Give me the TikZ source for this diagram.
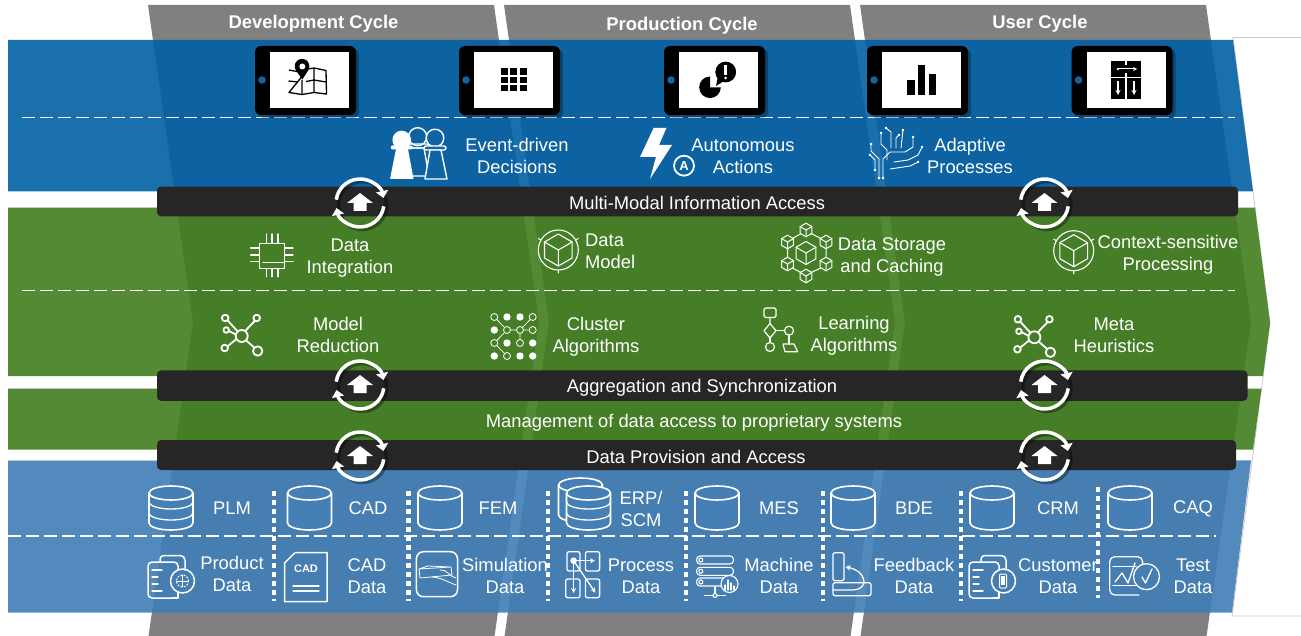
\documentclass[tikz,border=0pt]{standalone}
\usepackage{fontspec}
\setmainfont{Liberation Sans}
\usetikzlibrary{arrows.meta}
\definecolor{chevgray}{HTML}{808080}
\definecolor{bandblue}{RGB}{2,97,165}
\definecolor{bandgreen}{RGB}{65,126,30}
\definecolor{bandsteel}{RGB}{64,126,183}
\definecolor{solidblue}{HTML}{0F65A3}
\definecolor{solidgreen}{HTML}{487F27}
\definecolor{solidsteel}{HTML}{467FB5}
\definecolor{barblack}{HTML}{262626}
\definecolor{edgegray}{HTML}{C8C8C8}
\tikzset{
  chevron/.style={fill=chevgray},
  bandshape/.style={fill opacity=.905},
  sepline/.style={draw=white,line width=1.6pt,dash pattern=on 13pt off 5pt},
  dotline/.style={draw=white,line width=4.5pt,dash pattern=on 4.5pt off 4.5pt},
  barshape/.style={fill=barblack,rounded corners=4pt},
  lbl/.style={text=white,font=\fontsize{18.35}{22}\selectfont,align=center,inner sep=0pt},
  headlbl/.style={text=white,font=\fontsize{18.4}{22}\selectfont\bfseries,inner sep=0pt},
  icon/.style={draw=white,line width=1.3pt,line join=round,line cap=round},
  thinicon/.style={draw=white,line width=.8pt,line join=round,line cap=round},
  blk/.style={draw=black,line width=1.3pt,line join=round},
}
\newcommand{\cycleicon}[2]{%
  \begin{scope}[shift={(#1,#2)}]
    \begin{scope}[shift={(2.5,2.5)},opacity=.35]
      \draw[black,line width=3.5pt] (0,0) circle[radius=24pt];
    \end{scope}
    \draw[white,line width=3.5pt,-{Triangle[width=12pt,length=7pt]}] (172:24pt) arc[start angle=172,end angle=12,radius=24pt];
    \draw[white,line width=3.5pt,-{Triangle[width=12pt,length=7pt]}] (-8:24pt) arc[start angle=-8,end angle=-168,radius=24pt];
    \fill[white] (0,-10)--(13,0)--(6.5,0)--(6.5,8)--(-6.5,8)--(-6.5,0)--(-13,0)--cycle;
  \end{scope}}
\newcommand{\tabletbox}[1]{%
  \begin{scope}[shift={(#1,46)}]
    \fill[black,opacity=.3,rounded corners=6pt] (3,3) rectangle (104,72);
    \fill[black,rounded corners=6pt] (0,0) rectangle (101,69);
    \fill[white] (15,6) rectangle (94,62);
    \fill[solidblue] (7,34) circle[radius=3.8pt];
  \end{scope}}
\newcommand{\cylicon}[2]{%
  \begin{scope}[shift={(#1,#2)}]
    \draw[icon,line width=1.6pt,fill=solidsteel] (-22,7) -- (-22,37) arc[start angle=180,end angle=360,x radius=22pt,y radius=7pt] -- (22,7) arc[start angle=0,end angle=180,x radius=22pt,y radius=7pt] -- cycle;
    \draw[icon,line width=1.6pt] (-22,7) arc[start angle=180,end angle=360,x radius=22pt,y radius=7pt];
  \end{scope}}
\newcommand{\cylrings}[2]{%
  \begin{scope}[shift={(#1,#2)}]
    \draw[icon] (-22,16) arc[start angle=180,end angle=360,x radius=22pt,y radius=7pt];
    \draw[icon] (-22,27) arc[start angle=180,end angle=360,x radius=22pt,y radius=7pt];
  \end{scope}}
\newcommand{\cubeicon}[3]{%
  \begin{scope}[shift={(#1,#2)}]
    \draw[icon,line width=1pt] (90:#3pt)--(30:#3pt)--(-30:#3pt)--(-90:#3pt)--(-150:#3pt)--(150:#3pt)--cycle;
    \draw[icon,line width=1pt] (0,0)--(150:#3pt) (0,0)--(30:#3pt) (0,0)--(-90:#3pt);
  \end{scope}}
\newcommand{\cubering}[2]{%
  \begin{scope}[shift={(#1,#2)}]
    \draw[icon,line width=1.1pt] (0,0) circle[radius=20pt];
    \draw[icon,line width=1.1pt] (-90:20pt)--(-90:23pt) (30:20pt)--(30:23pt) (150:20pt)--(150:23pt);
    \draw[icon,line width=1.1pt] (90:16pt)--(30:16pt)--(-30:16pt)--(-90:16pt)--(-150:16pt)--(150:16pt)--cycle;
    \draw[icon,line width=1.1pt] (0,0)--(150:16pt) (0,0)--(30:16pt) (0,0)--(-90:16pt);
  \end{scope}}
\newcommand{\hubicon}[2]{%
  \begin{scope}[shift={(#1,#2)}]
    \draw[icon,line width=1.8pt] (0,0) circle[radius=6pt];
    \draw[icon,line width=1.8pt] (-16.5,-18) circle[radius=3.3pt] (15,-18) circle[radius=3.3pt] (-15.5,-6) circle[radius=2.8pt] (-17,12) circle[radius=3.3pt] (16,15) circle[radius=4.7pt];
    \draw[icon,line width=1.8pt] (-4,-4.5)--(-14,-15.5) (3.4,-5)--(13,-15) (-5.8,-1.5)--(-12.8,-5) (-5.2,3)--(-14,10.2) (4.3,4.3)--(12.7,11.7);
  \end{scope}}
\newcommand{\stackdoc}[1]{%
  \begin{scope}[shift={(#1,0)}]
    \draw[icon,line width=1.5pt] (12,561)--(12,559) to[out=90,in=180] (16,555.5)--(32,555.5) to[out=0,in=90] (37,560)--(37,570);
    \draw[icon,line width=1.5pt,rounded corners=4pt] (24,598)--(0,598)--(0,562)--(30,562)--(30,570);
    \draw[icon,line width=1.5pt] (30,592)--(30,598)--(24,598);
    \draw[icon] (4,570)--(14,570) (4,577)--(10,577) (4,584)--(10,584) (4,591)--(14,591);
    \draw[icon,line width=1.5pt] (34.5,581) circle[radius=12pt];
  \end{scope}}
\begin{document}
\begin{tikzpicture}[x=1pt,y=-1pt]
\useasboundingbox (0,0) rectangle (1301,636);
\clip (0,0) rectangle (1301,636);
% chevrons behind
\fill[chevron] (148,5)--(494,5)--(539,322)--(494,640)--(148,640)--(193,322)--cycle;
\fill[chevron] (504,5)--(850,5)--(895,322)--(850,640)--(504,640)--(549,322)--cycle;
\fill[chevron] (860,5)--(1206,5)--(1251,322)--(1206,640)--(860,640)--(905,322)--cycle;
% outer edge
\draw[edgegray,line width=.8pt] (1301,37.5)--(1233,37.5)--(1270,323)--(1232,616)--(1301,616);
% bands
\fill[bandblue,bandshape] (8,40)--(1233,40)--(1253,191.5)--(8,191.5)--cycle;
\fill[bandgreen,bandshape] (8,207.7)--(1255,207.7)--(1270,323)--(1263,376)--(8,376)--cycle;
\fill[bandgreen,bandshape] (8,388.6)--(1261.5,388.6)--(1253,449.5)--(8,449.5)--cycle;
\fill[bandsteel,bandshape] (8,460.4)--(1251,460.4)--(1232,612.5)--(8,612.5)--cycle;
\draw[edgegray,line width=.7pt] (8,207.5)--(157,207.5) (8,388.3)--(157,388.3) (8,460.2)--(157,460.2);
% head labels
\node[headlbl] (hdev) at (313.5,23.5) {Development Cycle};
\node[headlbl] (hprod) at (682,25.5) {Production Cycle};
\node[headlbl] (huser) at (1040,23.5) {User Cycle};
% separators
\draw[sepline] (22,117.5)--(1235,117.5);
\draw[sepline] (22,290.5)--(1235,290.5);
\draw[sepline] (8,536)--(1216,536);
\foreach \sx in {274,408.6,548,686,823,961}{\draw[dotline] (\sx,491)--(\sx,601);}
\draw[dotline] (1098,487)--(1098,598);
% tablets
\tabletbox{255}\tabletbox{459}\tabletbox{664}\tabletbox{867}\tabletbox{1071.5}
% map icon
\draw[blk] (289,70)--(297,71.5) (308,69)--(314,68)--(326,70.5)--(326.5,94)--(314,92.5)--(302,94.5)--(289,92.5)--cycle;
\draw[blk] (302,80)--(302,94.5) (314,68)--(314,92.5) (288.5,81)--(298,82) (306,81.5)--(314,80)--(326,82);
\fill[black] (302.3,79.5)--(296,70.5) arc[start angle=215,end angle=-35,radius=7.4pt]--cycle;
\fill[white] (302.3,66.5) circle[radius=3pt];
% grid icon
\foreach \gx in {501,510.4,520}{\foreach \gy in {68.5,76.7,85}{\fill[black] (\gx,\gy) rectangle +(6.6,6.3);}}
% pie and alert icon
\fill[black] (710,87.3)--(710,76.5) arc[start angle=90,end angle=360,radius=10.8pt]--cycle;
\fill[black] (725.7,72) circle[radius=10.4pt];
\fill[black] (718,76)--(716,86)--(724,81)--cycle;
\fill[white] (724.4,65) rectangle (727,75);
\fill[white] (725.7,78) circle[radius=1.5pt];
% bars icon
\fill[black] (907.4,80) rectangle (914.8,95);
\fill[black] (918,65) rectangle (925,95);
\fill[black] (928.5,74) rectangle (936,95);
% flow icon
\fill[black] (1111,61) rectangle (1124.5,77);
\fill[black] (1127,61) rectangle (1141,77);
\fill[black] (1111,78.5) rectangle (1124.5,99);
\fill[black] (1127,78.5) rectangle (1141,99);
\fill[black] (1124,65) rectangle (1128,73);
\draw[white,line width=1pt,-{Stealth[length=4pt,width=4pt]}] (1118,69)--(1137,69);
\fill[white] (1118,69) circle[radius=1.4pt];
\draw[white,line width=1.2pt,-{Stealth[length=5pt,width=5pt]}] (1118,81)--(1118,95);
\draw[white,line width=1.2pt,-{Stealth[length=5pt,width=5pt]}] (1134,81)--(1134,95);
% pawns
\begin{scope}[icon,line width=1.4pt]
 \draw (417.7,136.7) circle[radius=9pt];
 \draw[rounded corners=2pt] (407,144) rectangle (429,148);
 \draw (412,148)--(424,148)--(429,176)--(410,176);
 \draw[fill=solidblue] (435,138) circle[radius=8.8pt];
 \draw[fill=solidblue,rounded corners=2pt] (424,146) rectangle (446,150);
 \draw[fill=solidblue] (430,150)--(441,150)--(447,179)--(425,179)--cycle;
\end{scope}
\fill[white] (401.7,140) circle[radius=9.3pt];
\fill[white,rounded corners=2pt] (390.7,145.5) rectangle (413,149.5);
\fill[white] (396,149)--(408,149)--(413.5,179)--(390,179)--cycle;
% lightning
\fill[white] (653.6,128)--(666.4,128)--(659,145)--(672,145)--(650,179)--(656,157)--(640,157)--cycle;
\draw[icon,line width=1.8pt] (684,165.7) circle[radius=10pt];
\node[text=white,font=\fontsize{13}{13}\selectfont\bfseries,inner sep=0pt] (alabel) at (684,165.9) {A};
% circuit tree
\begin{scope}[thinicon,line width=.9pt]
 \draw (879,178)--(879,159)--(871,151)--(871,144);
 \draw (883,178)--(883,159)--(890,152)--(905,152)--(913,147)--(913,137);
 \draw (875,170)--(875,160)--(870,155);
 \draw (887,160)--(887,150)--(881,144)--(881,133);
 \draw (891,148)--(891,132)--(886,128);
 \draw (896,148)--(896,138)--(899,135);
 \draw (901,148)--(903,130);
 \draw (894,162)--(908,160)--(918,155)--(922,147);
 \draw (890,169)--(910,166)--(918,162);
 \foreach \px/\py in {871/144,913/137,870/155,881/133,886/128,899/135,903/130,922/147,918/162,879/178,883/178,875/170}{\draw[fill=white] (\px,\py) circle[radius=.9pt];}
\end{scope}
% bars
\fill[barshape] (157,186.6) rectangle (1238,216.3);
\fill[barshape] (157,370.4) rectangle (1247.5,400.8);
\fill[barshape] (157,440.1) rectangle (1236,470);
\foreach \cx in {360,1044.5}{\cycleicon{\cx}{203}\cycleicon{\cx}{385}\cycleicon{\cx}{456}}
% chip
\begin{scope}[icon]
 \draw (259.3,243.3) rectangle (284.3,268.3);
 \draw (263,262.7)--(284,262.7);
 \foreach \a in {266.7,272,278}{\draw (\a,243)--(\a,234) (\a,268.5)--(\a,276.7);}
 \foreach \a in {248,255,261.7}{\draw (259,\a)--(250.7,\a) (284.5,\a)--(293,\a);}
\end{scope}
\cubering{558.3}{250}
\cubering{1073.7}{250.7}
% cube network
\foreach \a/\b in {806/230,826/242,826/264,806/276,787.5/264,787.5/242}{\cubeicon{\a}{\b}{6.8}}
\cubeicon{806}{253}{11.5}
\draw[icon,line width=1pt] (811,233.5)--(821,238.5) (826,249.5)--(826,256.5) (821,268)--(811,272.5) (801,272.5)--(792.5,268) (787.5,256.5)--(787.5,249.5) (792.5,238.5)--(801,233.5);
% hub icons
\hubicon{241.7}{336}
\hubicon{1034.4}{337.3}
% cluster
\begin{scope}[thinicon]
 \draw (494.3,317)--(507,330)--(520,330)--(532.7,330) (520,330)--(532.7,317) (507,330)--(494.3,343)--(507,356) (520,330)--(520,343);
 \foreach \px/\py in {494.3/317,532.7/317,507/330,520/330,532.7/330,494.3/343,520/343,507/356}{\draw[fill=solidgreen] (\px,\py) circle[radius=3.5pt];}
\end{scope}
\foreach \px/\py in {507/317,520/317,494.3/330,507/343,532.7/343,494.3/356,520/356,532.7/356}{\fill[white] (\px,\py) circle[radius=3.7pt];}
% learning flow
\begin{scope}[icon,line width=1.2pt]
 \draw[rounded corners=1.5pt] (764,308) rectangle (776,317.5);
 \draw (770,317.5)--(770,323.5) (764,330.7)--(770,323.5)--(776,330.7)--(770,338)--cycle;
 \draw (776,330.7)--(784.5,330.7) (770,338)--(770,342.5);
 \draw (789,330.7) circle[radius=4.5pt] (770,347) circle[radius=4.5pt];
 \draw (789,335.2)--(789,344);
 \draw (783,344)--(794,344)--(797.7,351.7)--(785,351.7)--cycle;
\end{scope}
% data-layer cylinders
\cylicon{171}{486}\cylrings{171}{486}
\cylicon{309.5}{486}
\cylicon{440}{486}
\cylicon{580.5}{478}
\cylicon{588.5}{486}\cylrings{588.5}{486}
\cylicon{717}{486}
\cylicon{853}{486}
\cylicon{992}{486}
\cylicon{1130}{486}
% docs
\stackdoc{148}
\stackdoc{969}
\draw[icon,dotted,line width=1pt] (182.5,581) circle[radius=6pt];
\draw[icon,line width=.9pt] (176.5,581)--(188.5,581) (182.5,575)--(182.5,587);
\draw[icon,line width=1pt,rounded corners=1pt] (999.5,574) rectangle (1006.5,588);
\fill[white] (1001,575.5) rectangle (1005,585);
% CAD doc
\draw[icon,line width=1.5pt] (295,552.7)--(327,552.7)--(327,601.7)--(284.6,601.7)--(284.6,563)--cycle;
\node[text=white,font=\fontsize{11}{11}\selectfont\bfseries,inner sep=0pt] (cadmark) at (306,569) {CAD};
\draw[icon] (293,586)--(319,586) (293,591)--(319,591);
% simulation
\draw[icon,line width=1.5pt,rounded corners=7pt] (416.4,551.7) rectangle (457.5,596.7);
\draw[thinicon] (419,569)--(451,567)--(452,575)--(420,578)--cycle (419,569)--(428,566)--(451,567);
\draw[thinicon] (432,577) to[out=-5,in=160] (456,585) (440,570) to[out=10,in=170] (456,578);
% process
\begin{scope}[icon]
 \draw[rounded corners=2pt] (567,551.7) rectangle (580,571);
 \draw[rounded corners=2pt] (585.4,551.7) rectangle (599.6,571);
 \draw[rounded corners=2pt] (565.7,579) rectangle (580,597.7);
 \draw[rounded corners=2pt] (585.4,579) rectangle (599.6,597.7);
 \draw[-{Stealth[length=5pt,width=5pt]}] (573.6,560.7)--(595,560.7);
 \draw[-{Stealth[length=5pt,width=5pt]}] (573.6,560.7)--(573.6,593);
 \draw[-{Stealth[length=5pt,width=5pt]}] (573.6,560.7)--(595.4,592.7);
\end{scope}
\fill[white] (573.6,560.7) circle[radius=3.3pt];
% machine
\begin{scope}[icon,line width=1.1pt]
 \foreach \my in {556,567.3,578}{
  \draw[rounded corners=3.5pt] (696.6,\my) rectangle (733.5,\my+8);
  \draw (700.8,\my+4) circle[radius=2pt];}
 \draw[fill=solidsteel] (729.5,584) circle[radius=8.5pt];
 \draw (715,587)--(715,593.5) (704.5,595.5)--(713,595.5) (717,595.5)--(725.5,595.5);
 \draw (715,595.5) circle[radius=2pt];
 \draw (725,590)--(725,585) (728,590)--(728,580) (731,590)--(731,583) (734,590)--(734,586);
\end{scope}
% feedback
\begin{scope}[icon,line width=1.2pt]
 \draw[rounded corners=1.5pt] (833,552.7) rectangle (844,580.7);
 \draw[rounded corners=1.5pt] (833,582.7)--(871,582.7)--(871,595.7)--(833,595.7)--cycle;
 \draw[-{Stealth[length=5pt,width=5.5pt]}] (864,582.7) to[out=90,in=-10] (845.5,567);
 \draw (833,590)--(852,590) to[out=0,in=-100] (864,582.7);
\end{scope}
% test
\begin{scope}[icon,line width=1.3pt]
 \draw[rounded corners=5pt] (1139,595)--(1109.7,595)--(1109.7,556.7)--(1142.6,556.7)--(1142.6,564);
 \draw (1113,566.7)--(1136,566.7) (1113,585.7)--(1136,585.7);
 \draw (1115,582)--(1122,573)--(1128,583)--(1135,563);
 \draw (1146.5,576.7) circle[radius=13pt];
 \draw (1142,577)--(1145.5,583)--(1152,569);
\end{scope}
% text labels
\node[lbl] (evt) at (517,156) {Event-driven\\Decisions};
\node[lbl] (auto) at (743,156) {Autonomous\\Actions};
\node[lbl] (adapt) at (970,156) {Adaptive\\Processes};
\node[lbl] (mm) at (697,202.5) {Multi-Modal Information Access};
\node[lbl] (dint) at (350,258) {Data\\Integration};
\node[lbl,align=left,anchor=west] (dmod) at (585,251) {Data\\Model};
\node[lbl] (dstore) at (892,257) {Data Storage\\and Caching};
\node[lbl] (ctx) at (1168,255) {Context-sensitive\\Processing};
\node[lbl] (mred) at (338,334.5) {Model\\Reduction};
\node[lbl] (clus) at (596,337) {Cluster\\Algorithms};
\node[lbl] (learn) at (854,336) {Learning\\Algorithms};
\node[lbl] (meta) at (1114,335) {Meta\\Heuristics};
\node[lbl] (agg) at (702,388) {Aggregation and Synchronization};
\node[lbl] (mgmt) at (694,423) {Management of data access to proprietary systems};
\node[lbl] (prov) at (696,456.5) {Data Provision and Access};
\node[lbl] (plm) at (232,508.5) {PLM};
\node[lbl] (cad) at (368,508.5) {CAD};
\node[lbl] (fem) at (498,508.5) {FEM};
\node[lbl] (erp) at (641,509) {ERP/\\SCM};
\node[lbl] (mes) at (779,508.5) {MES};
\node[lbl] (bde) at (914,508.5) {BDE};
\node[lbl] (crm) at (1058,508.5) {CRM};
\node[lbl] (caq) at (1193,508.5) {CAQ};
\node[lbl] (pdat) at (232,574) {Product\\Data};
\node[lbl] (cdat) at (367,576) {CAD\\Data};
\node[lbl] (sdat) at (505,576) {Simulation\\Data};
\node[lbl] (prdat) at (641,576) {Process\\Data};
\node[lbl] (mdat) at (779,576) {Machine\\Data};
\node[lbl] (fdat) at (914,576) {Feedback\\Data};
\node[lbl] (cudat) at (1058,576) {Customer\\Data};
\node[lbl] (tdat) at (1193,576) {Test\\Data};
\end{tikzpicture}
\end{document}
